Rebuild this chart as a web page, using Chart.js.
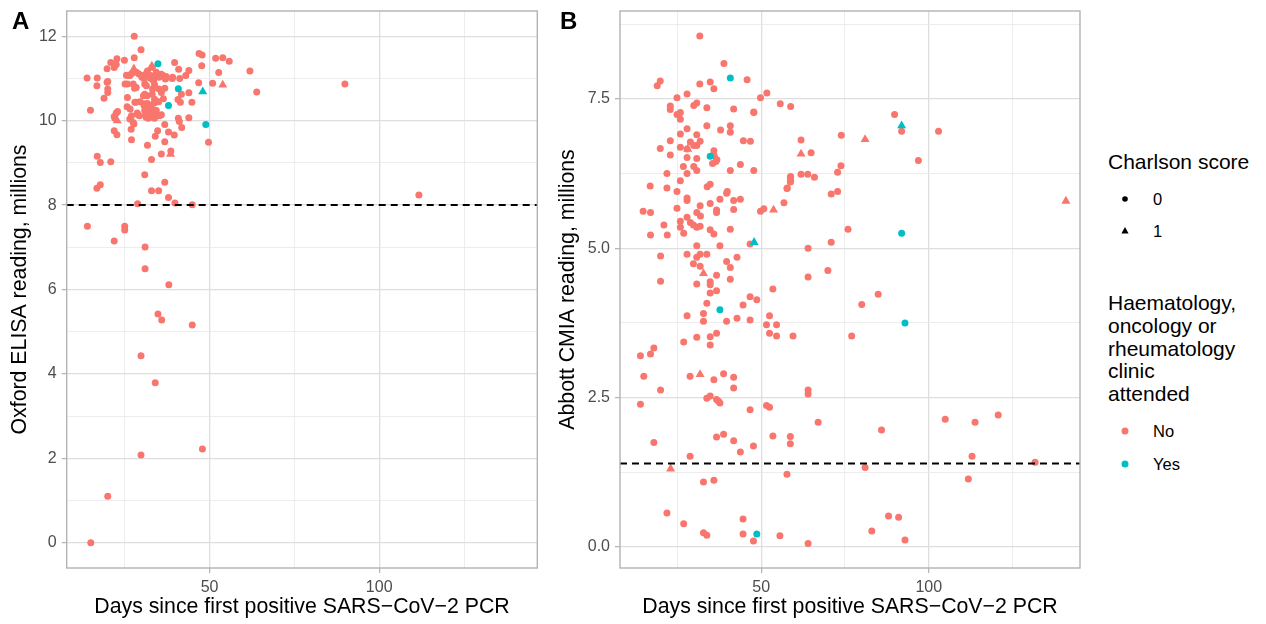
<!DOCTYPE html>
<html>
<head>
<meta charset="utf-8">
<script src="https://cdn.jsdelivr.net/npm/chart.js@4.4.1/dist/chart.umd.min.js"></script>
<style>
  body { margin: 0; background: #fff; font-family: "Liberation Sans", Arial, Helvetica, sans-serif; }
  #wrap { position: relative; width: 1266px; height: 624px; overflow: hidden; }
  canvas { position: absolute; top: 0; }
  .tag { position: absolute; top: 9px; font-size: 24px; line-height: 24px; font-weight: bold; color: #000; }
  .lg { position: absolute; color: #000; white-space: nowrap; }
  .lg-title { font-size: 21px; line-height: 22.8px; }
  .lg-item { font-size: 16.5px; line-height: 20px; }
  .mk { position: absolute; }
</style>
</head>
<body>
<div id="wrap">
  <canvas id="chartA" width="548" height="624" style="left:0px"></canvas>
  <canvas id="chartB" width="542" height="624" style="left:548px"></canvas>
  <div class="tag" style="left:12px">A</div>
  <div class="tag" style="left:560px">B</div>

  <div class="lg lg-title" style="left:1108px; top:151px">Charlson score</div>
  <svg class="mk" style="left:1115px; top:189px" width="20" height="52">
    <circle cx="10" cy="10" r="2.8" fill="#000"></circle>
    <polygon points="10,38 13.6,44.5 6.4,44.5" fill="#000"></polygon>
  </svg>
  <div class="lg lg-item" style="left:1153px; top:189px">0</div>
  <div class="lg lg-item" style="left:1153px; top:221px">1</div>

  <div class="lg lg-title" style="left:1108px; top:292px">Haematology,<br>oncology or<br>rheumatology<br>clinic<br>attended</div>
  <svg class="mk" style="left:1115px; top:421px" width="20" height="54">
    <circle cx="10" cy="10" r="3.5" fill="#F8766D"></circle>
    <circle cx="10" cy="43" r="3.5" fill="#00BFC4"></circle>
  </svg>
  <div class="lg lg-item" style="left:1153px; top:421px">No</div>
  <div class="lg lg-item" style="left:1153px; top:454px">Yes</div>
</div>

<script>
// colours used by ggplot's default two-level hue palette
const SALMON = '#F8766D';
const TEAL = '#00BFC4';

// x axis (days since first positive PCR), shared by both panels
const dayTicks = [25, 50, 75, 100, 125];
const dayLabels = [50, 100];

// Panel A: Oxford ELISA reading, millions  [day, reading]
const oxfordTicks = [0, 1, 2, 3, 4, 5, 6, 7, 8, 9, 10, 11, 12];
const oxfordLabels = [0, 2, 4, 6, 8, 10, 12];
const oxfordCutoff = 8;

const oxfordNo0 = [
  [27.8,12.0],[29.8,11.68],[46.9,11.59],[47.8,11.56],[51.8,11.48],[53.9,11.49],[55.8,11.41],[27.8,11.49],
  [24.9,11.43],[22.7,11.47],[20.9,11.38],[22.5,11.33],[19.8,11.23],[21.9,11.26],[39.7,11.38],[40.9,11.22],
  [43.9,11.19],[47.7,11.30],[52.7,11.14],[13.9,11.01],[16.9,11.01],[16.8,10.83],[19.8,10.91],[20.0,10.75],
  [20.0,10.67],[18.9,10.53],[14.9,10.25],[22.5,10.18],[22.1,10.06],[21.9,9.76],[22.7,9.67],[16.9,9.16],
  [17.8,9.01],[20.9,9.03],[16.8,8.40],[17.8,8.48],[27.0,9.55],[26.9,9.80],[27.7,9.92],[26.5,10.04],
  [25.7,10.33],[25.8,10.55],[27.9,10.77],[28.3,10.44],[28.7,10.16],[25.1,10.87],[26.0,11.07],[27.0,11.11],
  [28.4,11.15],[29.9,11.07],[31.7,11.18],[33.1,11.26],[34.3,11.15],[35.8,11.10],[37.2,11.05],[39.1,11.03],
  [41.2,11.00],[43.0,11.07],[46.8,10.90],[50.9,10.89],[41.7,10.63],[43.9,10.66],[44.8,10.44],[41.4,10.44],
  [40.7,10.50],[35.8,10.67],[36.8,10.77],[36.4,10.52],[33.8,10.51],[33.2,10.75],[33.5,10.95],[30.9,10.87],
  [30.9,10.63],[30.9,10.40],[31.9,10.32],[33.1,10.28],[34.3,10.24],[35.8,10.14],[33.8,10.06],[31.9,10.06],
  [29.3,10.12],[27.0,10.12],[27.5,9.96],[40.8,10.06],[41.1,9.98],[43.9,10.07],[41.8,9.84],[36.8,9.91],
  [34.7,9.76],[37.9,9.73],[39.6,9.66],[34.0,9.63],[36.8,9.50],[31.7,9.42],[38.6,9.28],[35.8,9.21],
  [49.7,9.49],[32.9,9.08],[30.9,8.72],[36.8,8.54],[32.9,8.34],[35.0,8.34],[37.9,8.18],[39.8,8.05],
  [44.9,8.01],[28.8,8.03],[89.9,10.87],[61.9,11.18],[63.9,10.68],[111.7,8.24],[14.0,7.50],[25.0,7.50],
  [25.0,7.41],[21.9,7.15],[31.0,7.01],[31.0,6.49],[38.0,6.11],[34.8,5.42],[35.9,5.28],[44.9,5.16],
  [29.8,4.43],[34.0,3.79],[29.8,2.08],[47.9,2.22],[20.0,1.10],[15.0,0.0],
  [25.5,11.08],[26.5,11.07],[29.1,11.11],[30.1,11.03],[31.3,11.11],[32.4,11.08],[32.7,11.0],[33.8,11.07],
  [35.1,11.03],[36.3,11.07],[37.0,10.99],[39.0,11.0],[30.8,10.99],[27.5,10.87],[28.4,10.79],[25.8,10.87],
  [31.4,10.83],[33.8,10.85],[35.1,10.75],[33.1,10.63],[31.6,10.59],[30.5,10.59],[29.5,10.45],[30.7,10.36],
  [31.7,10.41],[32.5,10.36],[33.7,10.42],[35.0,10.45],[30.9,10.24],[31.9,10.20],[32.7,10.16],[33.8,10.18],
  [35.3,10.12],[31.3,10.08],[33.2,10.08],[28.7,10.18],[26.6,10.28],[28.0,10.44],[20.0,10.93],[21.9,10.10],
  [22.9,10.22]
];
const oxfordNo1 = [[22.8,10.0],[38.5,9.21],[53.9,10.85],[27.7,11.23],[33.0,11.30],[31.0,10.15]];
const oxfordYes0 = [[34.8,11.35],[40.8,10.76],[37.9,10.36],[48.9,9.91]];
const oxfordYes1 = [[48.0,10.69]];

// Panel B: Abbott CMIA reading, millions  [day, reading]
const abbottTicks = [0, 1.25, 2.5, 3.75, 5, 6.25, 7.5, 8.75];
const abbottLabels = [0, 2.5, 5, 7.5];
const abbottCutoff = 1.4;

const abbottNo0 = [
  [31.7,8.55],[38.9,8.09],[45.8,7.82],[19.9,7.80],[19.0,7.72],[31.7,7.75],[34.8,7.78],[35.9,7.67],
  [51.7,7.60],[49.8,7.52],[55.7,7.42],[58.8,7.37],[24.9,7.52],[27.9,7.58],[22.9,7.38],[22.9,7.32],
  [29.9,7.39],[30.8,7.43],[33.8,7.35],[41.8,7.33],[47.8,7.28],[24.9,7.24],[25.9,7.27],[25.9,7.16],
  [33.8,7.05],[40.8,7.05],[37.9,6.98],[40.8,6.94],[25.9,6.91],[27.9,7.00],[30.8,6.90],[22.9,6.80],
  [44.7,6.80],[28.9,6.78],[31.8,6.79],[29.9,6.72],[30.8,6.72],[19.9,6.67],[25.9,6.69],[27.9,6.66],
  [22.9,6.56],[27.9,6.52],[35.9,6.63],[36.8,6.48],[30.8,6.50],[26.8,6.37],[29.9,6.37],[30.8,6.30],
  [27.9,6.25],[21.9,6.25],[40.8,6.30],[43.8,6.40],[47.8,6.30],[25.9,6.13],[16.9,6.04],[21.9,6.01],
  [24.9,5.95],[33.9,6.03],[34.8,6.07],[39.9,5.95],[58.8,6.20],[58.8,6.13],[57.8,6.01],[27.9,5.84],
  [36.0,6.55],[36.5,6.45],[35.5,6.42],
  [89.8,7.24],[91.9,6.96],[102.9,6.96],[96.9,6.47],[73.9,6.89],[73.8,6.38],[72.8,6.27],[70.9,5.91],
  [72.8,5.95],[61.9,6.81],[64.9,6.60],[61.9,6.24],[63.9,6.24],[65.9,6.19],[58.7,6.19],[58.7,6.11],
  [57.7,6.0],[56.8,5.76],[49.8,5.62],[50.8,5.66],[47.8,7.27],[46.8,6.79],
  [14.8,5.62],[17.0,5.60],[24.9,5.67],[27.9,5.80],[31.8,5.71],[30.8,5.60],[31.9,5.54],[34.8,5.75],
  [36.7,5.64],[36.7,5.60],[37.7,5.82],[39.7,5.92],[41.8,5.80],[43.8,5.82],[41.8,5.65],[21.0,5.39],
  [17.0,5.22],[22.0,5.22],[25.9,5.45],[25.9,5.35],[26.9,5.25],[27.9,5.52],[28.9,5.43],[29.8,5.39],
  [30.8,5.35],[31.8,5.37],[34.8,5.31],[35.9,5.24],[40.8,5.32],[37.7,5.04],[30.8,5.04],[46.7,5.07],
  [20.0,4.87],[27.9,4.90],[30.8,4.85],[31.8,4.90],[33.8,4.90],[29.8,4.74],[31.8,4.70],[39.7,4.78],
  [40.8,4.68],[42.8,4.85],[20.0,4.45],[30.8,4.40],[34.8,4.44],[34.8,4.39],[36.7,4.55],[40.8,4.48],
  [36.7,4.29],[34.8,4.25],[53.5,4.32],[33.8,4.08],[46.7,4.19],[48.7,4.14],[44.6,4.05],[27.9,3.87],
  [32.8,3.91],[32.8,3.78],[39.7,3.78],[42.8,3.83],[46.7,3.80],[52.5,3.87],[51.6,3.72],[54.6,3.72],
  [52.5,3.58],[54.6,3.53],[59.5,3.53],[36.7,3.58],[34.8,3.52],[30.8,3.51],[26.9,3.43],[34.8,3.38],
  [14.0,3.20],[17.0,3.23],[18.0,3.33],
  [75.9,5.32],[70.9,5.10],[64.0,5.0],[69.9,4.63],[64.0,4.52],[84.9,4.23],[80.0,4.06],[77.0,3.53],
  [64.0,2.63],[64.0,2.56],
  [15.0,2.86],[20.0,2.63],[28.8,2.86],[35.9,2.80],[38.8,2.90],[41.8,2.84],[41.8,2.66],[14.0,2.39],
  [33.8,2.49],[34.8,2.53],[36.7,2.47],[37.7,2.41],[37.3,2.44],[46.7,2.30],[51.6,2.37],[52.5,2.34],
  [18.0,1.75],[36.7,1.84],[38.8,1.89],[41.8,1.78],[43.8,1.59],[47.7,1.69],[53.5,1.86],[58.7,1.85],
  [58.7,1.73],[28.8,1.52],[57.7,1.22],[32.8,1.09],[35.9,1.12],[21.9,0.57],[26.9,0.39],[32.8,0.24],
  [33.8,0.20],[44.6,0.47],[44.6,0.22],[47.7,0.10],[55.6,0.19],
  [67.0,2.09],[85.9,1.96],[104.9,2.14],[113.8,2.09],[120.7,2.21],[112.9,1.52],[131.7,1.42],[111.8,1.14],
  [81.0,1.33],[83.0,0.27],[88.0,0.52],[91.0,0.50],[92.9,0.12],[64.0,0.06]
];
const abbottNo1 = [[28.1,6.66],[61.9,6.58],[81.0,6.82],[53.7,5.64],[32.8,4.58],[31.8,2.89],[23.0,1.31],[140.9,5.79]];
const abbottYes0 = [[40.8,7.85],[34.8,6.54],[91.9,5.25],[37.7,3.97],[92.9,3.75],[48.7,0.22]];
const abbottYes1 = [[91.9,7.05],[47.9,5.10]];

const toXY = rows => rows.map(([x, y]) => ({x, y}));

// panel frame like ggplot's theme_light border
const panelBorder = {
  id: 'panelBorder',
  afterDraw(chart) {
    const {ctx, chartArea: {left, top, width, height}} = chart;
    ctx.save();
    ctx.strokeStyle = '#B3B3B3';
    ctx.lineWidth = 1.4;
    ctx.strokeRect(left, top, width, height);
    ctx.restore();
  }
};

// dashed horizontal cut-off line
const cutoffLine = {
  id: 'cutoffLine',
  afterDatasetsDraw(chart, args, opts) {
    const {ctx, chartArea: {left, right}, scales: {y}} = chart;
    const py = y.getPixelForValue(opts.value);
    ctx.save();
    ctx.strokeStyle = '#000';
    ctx.lineWidth = 2;
    ctx.setLineDash([7, 5]);
    ctx.beginPath();
    ctx.moveTo(left, py);
    ctx.lineTo(right, py);
    ctx.stroke();
    ctx.restore();
  }
};

const FONT = '"Liberation Sans", Arial, Helvetica, sans-serif';

function makePanel(id, p) {
  const ctx = document.getElementById(id).getContext('2d');
  const pt = (rows, color, style) => ({
    data: toXY(rows),
    backgroundColor: color,
    borderColor: color,
    borderWidth: 0,
    pointStyle: style,
    pointRadius: style === 'triangle' ? 5.2 : 3.5
  });
  // first dataset is painted last, so the teal points sit on top
  const datasets = [
    pt(p.yes1, TEAL, 'triangle'),
    pt(p.yes0, TEAL, 'circle'),
    pt(p.no1, SALMON, 'triangle'),
    pt(p.no0, SALMON, 'circle')
  ];
  const gridFor = majors => ({
    color: c => majors.includes(c.tick.value) ? '#DEDEDE' : '#E8E8E8',
    lineWidth: c => majors.includes(c.tick.value) ? 1.3 : 0.8,
    tickColor: c => majors.includes(c.tick.value) ? '#B3B3B3' : 'rgba(0,0,0,0)',
    tickLength: 5,
    tickWidth: 1.2
  });
  return new Chart(ctx, {
    type: 'scatter',
    data: {datasets},
    options: {
      responsive: false,
      animation: false,
      events: [],
      layout: {padding: {left: 0, top: 11, right: p.padRight, bottom: 0}},
      plugins: {
        legend: {display: false},
        tooltip: {enabled: false},
        cutoffLine: {value: p.cutoff}
      },
      scales: {
        x: {
          type: 'linear',
          min: p.xMin,
          max: p.xMax,
          afterBuildTicks: s => { s.ticks = dayTicks.map(v => ({value: v})); },
          afterFit: s => { s.height = 56; s.paddingLeft = 0; s.paddingRight = 0; },
          border: {display: false},
          grid: gridFor(dayLabels),
          ticks: {
            autoSkip: false, maxRotation: 0, padding: 5, color: '#4D4D4D',
            font: {family: FONT, size: 16},
            callback: v => dayLabels.includes(v) ? String(v) : ''
          },
          title: {
            display: true, text: 'Days since first positive SARS\u2212CoV\u22122 PCR', color: '#000',
            font: {family: FONT, size: 21.3}, padding: {top: 0, bottom: 4}
          }
        },
        y: {
          type: 'linear',
          min: p.yMin,
          max: p.yMax,
          afterBuildTicks: s => { s.ticks = p.yTicks.map(v => ({value: v})); },
          afterFit: s => { s.width = p.yWidth; s.paddingTop = 0; s.paddingBottom = 0; },
          border: {display: false},
          grid: gridFor(p.yLabels),
          ticks: {
            autoSkip: false, padding: 5, color: '#4D4D4D',
            font: {family: FONT, size: 16},
            callback: v => p.yLabels.includes(v) ? p.fmt(v) : ''
          },
          title: {
            display: true, text: p.yTitle, color: '#000',
            font: {family: FONT, size: 21.3}, padding: {top: 7, bottom: 0}
          }
        }
      }
    },
    plugins: [panelBorder, cutoffLine]
  });
}

makePanel('chartA', {
  no0: oxfordNo0, no1: oxfordNo1, yes0: oxfordYes0, yes1: oxfordYes1,
  xMin: 7.9, xMax: 146.6, yMin: -0.6, yMax: 12.6,
  yTicks: oxfordTicks, yLabels: oxfordLabels, fmt: v => String(v),
  yTitle: 'Oxford ELISA reading, millions', cutoff: oxfordCutoff,
  yWidth: 66.7, padRight: 10.7
});

makePanel('chartB', {
  no0: abbottNo0, no1: abbottNo1, yes0: abbottYes0, yes1: abbottYes1,
  xMin: 7.9, xMax: 145.1, yMin: -0.35, yMax: 8.97,
  yTicks: abbottTicks, yLabels: abbottLabels, fmt: v => v.toFixed(1),
  yTitle: 'Abbott CMIA reading, millions', cutoff: abbottCutoff,
  yWidth: 72, padRight: 10
});
</script>
</body>
</html>
